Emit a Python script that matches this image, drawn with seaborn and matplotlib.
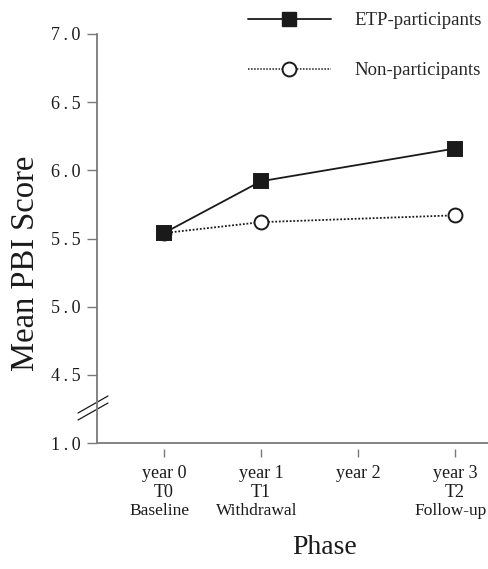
import matplotlib
matplotlib.use("Agg")
import matplotlib.pyplot as plt
import seaborn as sns
import pandas as pd
from matplotlib.lines import Line2D

# ---- data ----
years = [0, 1, 3]
etp_scores = [5.54, 5.92, 6.16]
non_scores = [5.54, 5.62, 5.67]
groups = ["ETP-participants", "Non-participants"]
xtick_pos = [0, 1, 2, 3]
xtick_top = ["year 0\nT0", "year 1\nT1", "year 2\n", "year 3\nT2"]
xtick_phase = ["Baseline", "Withdrawal", "", "Follow-up"]
ytick_vals = [4.0, 4.5, 5.0, 5.5, 6.0, 6.5, 7.0]   # 4.0 stands for the broken-axis value 1.0
ytick_labels = ["1.0", "4.5", "5.0", "5.5", "6.0", "6.5", "7.0"]

df = pd.DataFrame({
    "year": years + years,
    "score": etp_scores + non_scores,
    "group": [groups[0]] * len(years) + [groups[1]] * len(years),
})

sns.set_theme(style="white")
plt.rcParams["font.family"] = ["Liberation Serif", "DejaVu Serif"]

fig = plt.figure(figsize=(4.89, 5.69), dpi=100)
ax = fig.add_axes([97 / 489, 1 - 443 / 569, 1 - 97 / 489, (443 - 34) / 569])

ink = "#1a1a1a"
sns.lineplot(data=df, x="year", y="score", hue="group", style="group",
             hue_order=[groups[1], groups[0]], style_order=[groups[1], groups[0]],
             palette={groups[0]: ink, groups[1]: ink},
             dashes={groups[0]: "", groups[1]: (1, 1)},
             markers={groups[0]: "s", groups[1]: "o"},
             linewidth=1.3, markersize=10, legend=False, ax=ax)
for ln, mfc in zip(ax.lines, ["white", ink]):
    ln.set_markerfacecolor(mfc)
    ln.set_markeredgecolor(ink)
    ln.set_markeredgewidth(1.4)

ax.set_xlim(-0.69, 3.35)
ax.set_ylim(4.0, 7.0)

spine_col = "#7a7a7a"
for s in ["top", "right"]:
    ax.spines[s].set_visible(False)
ax.spines["left"].set_color(spine_col)
ax.spines["left"].set_linewidth(1.3)
ax.spines["bottom"].set_position(("outward", 4))
ax.spines["bottom"].set_visible(False)
ax.axhline(4.0, color=spine_col, lw=1.3, clip_on=False, zorder=1)

ax.set_yticks(ytick_vals)
ax.set_yticklabels([t.replace(".", "\u2009.\u2009") for t in ytick_labels])
ax.set_xticks(xtick_pos)
ax.set_xticklabels(xtick_top, linespacing=1.15)
ax.tick_params(axis="y", direction="out", length=7, width=1.0, color=spine_col,
               pad=5, labelsize=13, left=True, labelcolor=ink)
ax.tick_params(axis="x", direction="out", length=6, width=1.0, color=spine_col,
               pad=6, labelsize=13, bottom=True, labelcolor=ink)
for xp, lab in zip(xtick_pos, xtick_phase):
    ax.annotate(lab, xy=(xp, 0), xycoords=("data", "axes fraction"),
                xytext=(-3, -49), textcoords="offset points",
                ha="center", va="center", fontsize=12.5, color=ink)

# axis break marks
for dy in (0, 7):
    ax.plot([(78 - 97) / (489 - 97), (108 - 97) / (489 - 97)],
            [(443 - (413 + dy)) / 409, (443 - (396 + dy)) / 409],
            transform=ax.transAxes, color=ink, lw=0.9, clip_on=False)

ax.set_xlabel("Phase", fontsize=20, color=ink)
ax.xaxis.set_label_coords((325 - 97) / 392, (443 - 548) / 409)
ax.xaxis.label.set_va("center")
ax.set_ylabel("Mean PBI Score", fontsize=23.5, color=ink)
ax.yaxis.set_label_coords((26 - 97) / 392, (443 - 263) / 409)
ax.yaxis.label.set_va("center")

handles = [
    Line2D([], [], color=ink, lw=1.3, marker="s", markersize=10,
           markerfacecolor=ink, markeredgecolor=ink),
    Line2D([], [], color=ink, lw=1.1, ls=(0, (1, 1)), marker="o", markersize=10,
           markerfacecolor="white", markeredgecolor=ink, markeredgewidth=1.4),
]
fig.legend(handles, groups, loc="upper left", bbox_to_anchor=(248 / 489, 1 - 12 / 569),
           frameon=False, fontsize=13.5, handlelength=4.4, handletextpad=1.3,
           labelspacing=1.75, borderpad=0, borderaxespad=0)

fig.savefig("out.png", dpi=100)
